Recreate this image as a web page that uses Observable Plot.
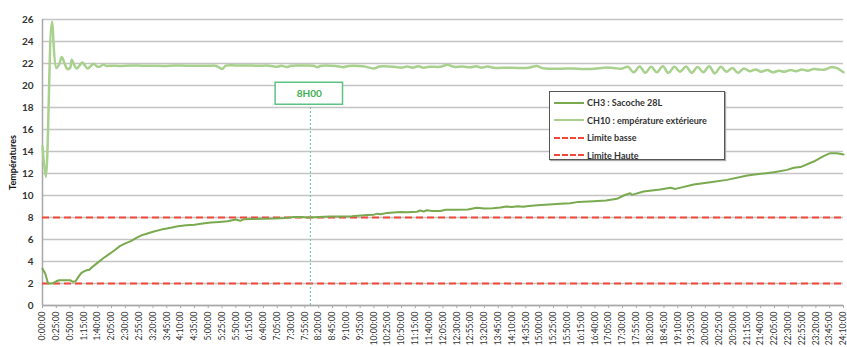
<!DOCTYPE html>
<html>
<head>
<meta charset="utf-8">
<script src="https://cdn.jsdelivr.net/npm/d3@7"></script>
<script src="https://cdn.jsdelivr.net/npm/@observablehq/plot@0.6"></script>
<style>
  html, body { margin: 0; padding: 0; background: #fff; }
  #wrap { position: relative; width: 847px; height: 347px; font-family: Lato, "Open Sans", sans-serif; }
  #legend { position: absolute; left: 549px; top: 91px; width: 176px; height: 69px; border: 1px solid #555;
            background: #fff; box-shadow: 1px 1px 1px #aaa; box-sizing: border-box; padding-top: 2px; }
  .row { height: 17.5px; display: flex; align-items: center; font-size: 9px; color: #333; font-weight: bold; }
  .sw { width: 30px; margin-left: 4px; margin-right: 3px; height: 0; }
</style>
</head>
<body>
<div id="wrap"><div id="chart"></div><div id="legend"></div></div>
<script>
// ---- Data (time in minutes since start) ----
const ch3Times  = [0,5,10,15,20,25,30,40,50,55,60,65,70,75,80,85,90,100,110,120,130,140,150,160,170,180,190,200,215,230,245,260,275,290,305,320,335,350,358,365,380,400,420,440,455,470,480,500,520,540,560,588,600,606,612,624,636,648,660,678,684,690,696,705,720,730,750,770,786,800,815,829,840,850,860,870,880,890,910,938,955,970,998,1020,1040,1052,1064,1067,1088,1118,1137,1146,1179,1209,1239,1276,1300,1324,1348,1360,1372,1396,1414,1426,1438,1450];
const ch3Values = [3.35,2.9,2.0,2.0,2.05,2.2,2.3,2.3,2.3,2.15,2.2,2.6,2.95,3.1,3.2,3.25,3.5,3.9,4.3,4.65,5.0,5.4,5.65,5.85,6.15,6.4,6.55,6.7,6.9,7.05,7.2,7.3,7.35,7.45,7.55,7.6,7.65,7.82,7.7,7.85,7.87,7.88,7.9,7.95,8.05,8.05,8.0,8.05,8.08,8.1,8.12,8.22,8.26,8.35,8.3,8.42,8.46,8.5,8.48,8.52,8.64,8.55,8.66,8.6,8.6,8.7,8.7,8.72,8.88,8.82,8.85,8.9,9.0,8.95,9.02,8.98,9.05,9.1,9.15,9.25,9.3,9.42,9.48,9.55,9.7,10.0,10.21,10.06,10.36,10.55,10.7,10.6,11.0,11.21,11.42,11.82,11.97,12.12,12.33,12.52,12.58,13.09,13.58,13.85,13.85,13.73];

const ch10Times  = [0,6,17,25,30,35,40,45,50,53,58,62,67,72,77,82,88,93,99,104,110,116,125,140,160,180,200,220,240,260,280,300,315,325,332,350,370,390,410,425,432,443,450,470,490,497,505,530,545,555,580,600,610,636,650,660,670,680,690,700,720,733,745,760,775,785,795,805,820,840,860,880,895,905,920,940,960,980,1000,1016,1034,1045,1050,1060,1070,1081,1091,1102,1112,1123,1133,1144,1154,1165,1175,1186,1196,1207,1217,1228,1238,1249,1259,1270,1280,1291,1301,1312,1322,1333,1343,1354,1364,1375,1385,1396,1406,1417,1427,1437,1450];
const ch10Values = [14.5,11.7,25.8,21.6,21.9,22.6,22.0,21.5,21.6,22.35,21.8,21.55,21.8,22.1,21.8,21.55,21.8,21.97,21.72,21.72,21.9,21.78,21.8,21.78,21.82,21.8,21.8,21.78,21.82,21.8,21.8,21.8,21.78,21.5,21.8,21.82,21.82,21.8,21.8,21.7,21.8,21.68,21.8,21.82,21.8,21.67,21.8,21.78,21.67,21.78,21.75,21.55,21.72,21.7,21.62,21.72,21.62,21.75,21.62,21.7,21.7,21.88,21.7,21.72,21.65,21.75,21.62,21.72,21.6,21.62,21.6,21.62,21.78,21.58,21.52,21.52,21.55,21.5,21.52,21.62,21.6,21.52,21.55,21.7,21.2,21.72,21.15,21.7,21.2,21.75,21.15,21.7,21.25,21.72,21.15,21.68,21.2,21.75,21.1,21.7,21.25,21.6,21.15,21.55,21.3,21.45,21.25,21.4,21.2,21.35,21.25,21.4,21.3,21.45,21.35,21.5,21.45,21.45,21.65,21.6,21.2];

const limits = [2, 8];                       // Limite basse, Limite Haute
const seriesNames = ["CH3 : Sacoche 28L", "CH10 : empérature extérieure", "Limite basse", "Limite Haute"];
const markerLabel = ["8H00"];
const markerTime = [485];
const markerBox = [{x1: 422, x2: 544, y1: 18.25, y2: 20.25}];
const yTicks = [0,2,4,6,8,10,12,14,16,18,20,22,24,26];
const xTickLabels = ["0:00:00","0:25:00","0:50:00","1:15:00","1:40:00","2:05:00","2:30:00","2:55:00","3:20:00","3:45:00","4:10:00","4:35:00","5:00:00","5:25:00","5:50:00","6:15:00","6:40:00","7:05:00","7:30:00","7:55:00","8:20:00","8:45:00","9:10:00","9:35:00","10:00:00","10:25:00","10:50:00","11:15:00","11:40:00","12:05:00","12:30:00","12:55:00","13:20:00","13:45:00","14:10:00","14:35:00","15:00:00","15:25:00","15:50:00","16:15:00","16:40:00","17:05:00","17:30:00","17:55:00","18:20:00","18:45:00","19:10:00","19:35:00","20:00:00","20:25:00","20:50:00","21:15:00","21:40:00","22:05:00","22:30:00","22:55:00","23:20:00","23:45:00","24:10:00"];

// ---- Build tables ----
const ch3 = ch3Times.map((t, i) => ({t, v: ch3Values[i]}));
const ch10 = ch10Times.map((t, i) => ({t, v: ch10Values[i]}));
const toMin = s => { const [h, m] = s.split(":").map(Number); return h * 60 + m; };
const xTickValues = xTickLabels.map(toMin);
const labelOf = new Map(xTickValues.map((m, i) => [m, xTickLabels[i]]));

const C3 = "#79aa4f", C10 = "#a9d18e", RED = "#f2483a", GRID = "#c4c4c4", AX = "#a8a8a8";

const chart = Plot.plot({
  width: 847, height: 347,
  marginLeft: 42, marginRight: 4, marginTop: 19, marginBottom: 42,
  style: {fontFamily: "Lato, 'Open Sans', sans-serif", fontSize: "9px", color: "#333", background: "#fff"},
  x: {domain: [0, 1450]},
  y: {domain: [0, 26]},
  marks: [
    Plot.gridY(yTicks, {stroke: GRID, strokeOpacity: 1, strokeWidth: 1.4}),
    Plot.ruleX([0], {stroke: AX, strokeWidth: 1.5}),
    Plot.ruleY([0], {stroke: AX, strokeWidth: 1.5}),
    Plot.axisY(yTicks, {tickSize: 0, tickPadding: 9, fontWeight: "bold", fontSize: 10, label: null}),
    Plot.axisY({label: "Températures", labelAnchor: "center", labelArrow: "none", labelOffset: 33,
      ticks: [], tickSize: 0, fontWeight: "bold", fontSize: 9, fill: "#111"}),
    Plot.axisX(xTickValues, {tickSize: 3, tickPadding: 3, tickRotate: -90, stroke: AX,
      tickFormat: d => labelOf.get(d), fontSize: 8.5, label: null}),
    Plot.ruleY(limits, {stroke: RED, strokeWidth: 2, strokeDasharray: "7,4"}),
    Plot.ruleX(markerTime, {y1: 0, y2: markerBox[0].y1, stroke: "#68c496", strokeWidth: 1, strokeDasharray: "2,2"}),
    Plot.rect(markerBox, {x1: "x1", x2: "x2", y1: "y1", y2: "y2", fill: "#fff", stroke: "#5cc383", strokeWidth: 1.5}),
    Plot.text(markerLabel, {x: () => (markerBox[0].x1 + markerBox[0].x2) / 2, y: () => (markerBox[0].y1 + markerBox[0].y2) / 2,
      text: d => d, fill: "#3cb04f", fontWeight: "bold", fontSize: 10}),
    Plot.line(ch10, {x: "t", y: "v", stroke: C10, strokeWidth: 2.5, curve: "catmull-rom"}),
    Plot.line(ch3, {x: "t", y: "v", stroke: C3, strokeWidth: 2, curve: "linear"})
  ]
});
document.getElementById("chart").appendChild(chart);

// ---- Legend ----
const styles = [
  `border-top: 2px solid ${C3}`,
  `border-top: 2px solid ${C10}`,
  `border-top: 2px dashed ${RED}`,
  `border-top: 2px dashed ${RED}`
];
const legend = document.getElementById("legend");
seriesNames.forEach((name, i) => {
  const row = document.createElement("div");
  row.className = "row";
  const sw = document.createElement("div");
  sw.className = "sw";
  sw.setAttribute("style", styles[i]);
  const tx = document.createElement("span");
  tx.textContent = name;
  row.appendChild(sw); row.appendChild(tx);
  legend.appendChild(row);
});
</script>
</body>
</html>
